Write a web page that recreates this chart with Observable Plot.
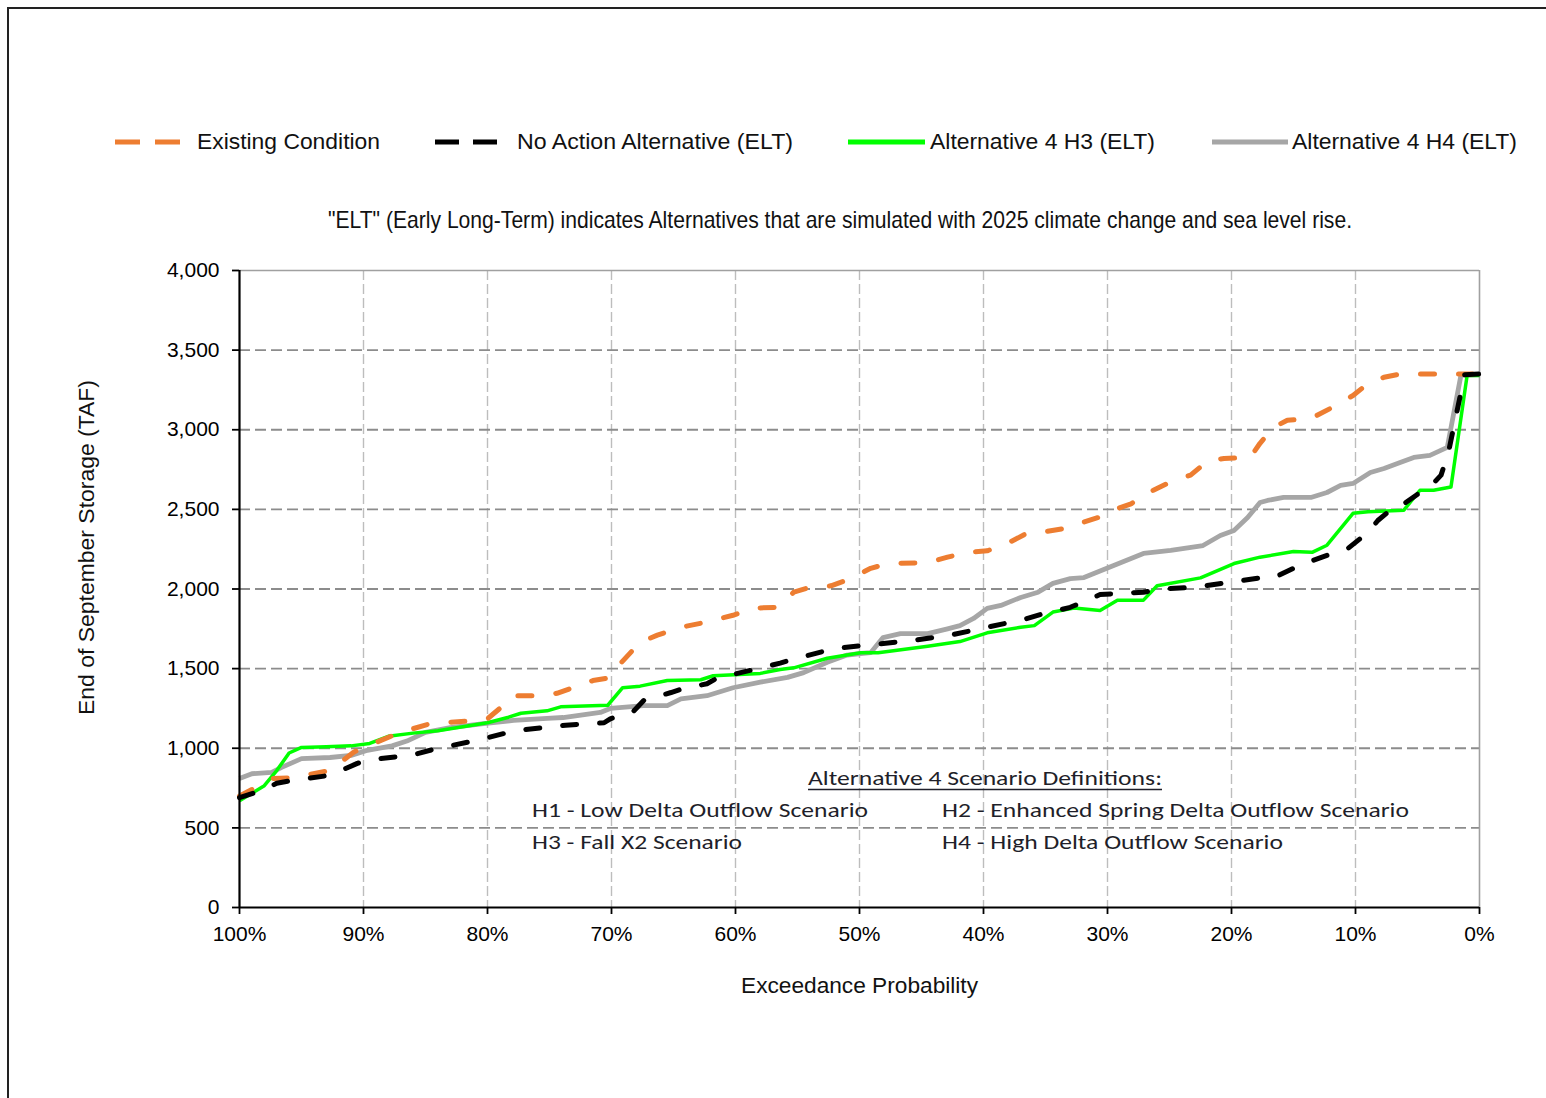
<!DOCTYPE html>
<html>
<head>
<meta charset="utf-8">
<script src="https://cdn.jsdelivr.net/npm/d3@7"></script>
<script src="https://cdn.jsdelivr.net/npm/@observablehq/plot@0.6"></script>
<style>
  html, body { margin: 0; padding: 0; background: #fff; width: 1546px; height: 1098px; overflow: hidden; }
  #page { position: relative; width: 1546px; height: 1098px; }
  #frame { position: absolute; left: 7px; top: 7px; width: 1600px; height: 1200px; border: 2px solid #222; box-sizing: border-box; }
  #chart { position: absolute; left: 0; top: 240px; }
  #overlay { position: absolute; left: 0; top: 0; pointer-events: none; }
</style>
</head>
<body>
<div id="page">
  <div id="frame"></div>
  <div id="chart"></div>
  <svg id="overlay" width="1546" height="1098"></svg>
</div>
<script>
// End-of-September storage exceedance curves (TAF) by exceedance probability (%)
const existingP   = [100, 97.3, 95.8, 92.7, 90.8, 90, 87, 84.6, 80.8, 80, 78.7, 77.9, 75.7, 74.4, 71.5, 70.3, 69.3, 67.7, 66.3, 64.4, 62.8, 60.2, 58.5, 56.6, 55.3, 54, 52.3, 50.7, 49.1, 47.7, 44.5, 42.9, 41.3, 39.7, 38.1, 36.5, 35.4, 33.5, 31.9, 30.3, 29.2, 28.1, 26.3, 24.7, 23.3, 21.9, 20.6, 18.5, 17.7, 16.6, 15.5, 13.6, 12.0, 10.2, 9.4, 7.7, 6.4, 3.1, 0];
const existingTAF = [700, 810, 815, 860, 975, 1005, 1100, 1155, 1175, 1185, 1270, 1330, 1330, 1345, 1425, 1440, 1530, 1665, 1710, 1760, 1785, 1835, 1880, 1885, 1980, 2010, 2020, 2065, 2130, 2160, 2165, 2200, 2230, 2240, 2285, 2350, 2355, 2380, 2420, 2460, 2505, 2535, 2620, 2680, 2715, 2805, 2820, 2825, 2915, 3015, 3060, 3070, 3135, 3215, 3265, 3330, 3350, 3350, 3350];

const noActionP   = [100, 98, 97, 95.8, 92.7, 90.5, 89.4, 86.2, 84, 83, 80.3, 77.8, 73.7, 70.6, 70.1, 68.2, 67.4, 65.2, 64.2, 62.3, 61.5, 58.2, 56.4, 55.3, 52.1, 49.7, 45.9, 42.7, 39.7, 36.7, 35.4, 33, 30.6, 27.1, 25.7, 23.1, 20.3, 17.7, 16.6, 15, 13.6, 11.8, 10.6, 9.0, 8.2, 6.9, 6.1, 3.7, 3.1, 2.5, 1.2, 0];
const noActionTAF = [690, 740, 780, 797, 830, 905, 930, 955, 1000, 1015, 1060, 1110, 1145, 1160, 1185, 1235, 1300, 1350, 1375, 1405, 1440, 1500, 1535, 1560, 1625, 1645, 1675, 1710, 1760, 1810, 1840, 1885, 1965, 1980, 2000, 2010, 2040, 2070, 2070, 2130, 2175, 2225, 2255, 2355, 2430, 2515, 2535, 2665, 2715, 2860, 3345, 3350];

const alt4H3P   = [100, 98, 97, 96, 95, 93, 91, 89.5, 88, 86, 84, 82, 80, 78.3, 77.3, 75.2, 74.1, 70.3, 69.1, 67.7, 65.5, 62.8, 61.8, 58, 56.4, 55.3, 52.6, 49.9, 48.5, 44.5, 41.9, 39.7, 37, 35.9, 34.4, 32.7, 30.6, 29.2, 27.1, 26, 22.5, 19.8, 17.7, 15, 13.5, 12.3, 10.2, 9, 6.1, 4.8, 3.7, 2.3, 1.0, 0];
const alt4H3TAF = [670, 765, 860, 970, 1005, 1010, 1015, 1030, 1075, 1095, 1110, 1135, 1160, 1195, 1220, 1235, 1260, 1270, 1380, 1390, 1425, 1430, 1455, 1470, 1495, 1505, 1565, 1600, 1600, 1640, 1670, 1725, 1760, 1770, 1855, 1880, 1865, 1930, 1930, 2020, 2070, 2160, 2200, 2235, 2230, 2275, 2475, 2485, 2495, 2620, 2620, 2640, 3340, 3340];

const alt4H4P   = [100, 99, 97.4, 96.6, 95, 92.7, 91, 89.8, 87.7, 86.5, 85, 83, 80.3, 77.9, 75.2, 73.9, 70.9, 70.1, 67.4, 65.5, 64.4, 62.3, 60.2, 58, 55.8, 54.5, 52.6, 51, 49.9, 49.1, 48.1, 46.7, 44.5, 42.9, 41.9, 40.8, 39.7, 38.6, 37, 35.6, 34.4, 33, 31.9, 29.5, 27.1, 24.9, 22.3, 20.9, 19.8, 18.7, 17.7, 17.1, 15.8, 13.6, 12.3, 11.2, 10.2, 8.8, 7.7, 6.4, 5.3, 4.0, 2.6, 1.5, 0];
const alt4H4TAF = [810, 840, 848, 880, 935, 942, 955, 985, 1015, 1045, 1100, 1130, 1155, 1175, 1187, 1193, 1225, 1250, 1268, 1268, 1310, 1330, 1380, 1415, 1445, 1475, 1540, 1585, 1595, 1600, 1695, 1720, 1720, 1750, 1770, 1815, 1878, 1897, 1947, 1980, 2035, 2065, 2072, 2148, 2223, 2242, 2273, 2336, 2368, 2449, 2543, 2556, 2575, 2575, 2606, 2650, 2663, 2732, 2757, 2795, 2826, 2839, 2889, 3341, 3347];

const seriesNames = ["Existing Condition", "No Action Alternative (ELT)", "Alternative 4 H3 (ELT)", "Alternative 4 H4 (ELT)"];
const xTicks = [100, 90, 80, 70, 60, 50, 40, 30, 20, 10, 0];
const yTicks = [0, 500, 1000, 1500, 2000, 2500, 3000, 3500, 4000];

const subtitle = "\"ELT\" (Early Long-Term) indicates Alternatives that are simulated with 2025 climate change and sea level rise.";
const xTitle = "Exceedance Probability";
const yTitle = "End of September Storage (TAF)";
const noteTitle = "Alternative 4 Scenario Definitions:";
const noteLines = ["H1 - Low Delta Outflow Scenario", "H2 - Enhanced Spring Delta Outflow Scenario", "H3 - Fall X2 Scenario", "H4 - High Delta Outflow Scenario"];

// Line styling per series
const styles = {
  "Existing Condition":          {stroke: "#ED7D31", width: 5,   dash: "14,24"},
  "No Action Alternative (ELT)": {stroke: "#000000", width: 5,   dash: "14,23"},
  "Alternative 4 H3 (ELT)":      {stroke: "#00FF00", width: 3.5, dash: null},
  "Alternative 4 H4 (ELT)":      {stroke: "#A6A6A6", width: 4.8, dash: null}
};

const toRows = (name, ps, vs) => ps.map((p, i) => ({series: name, p, taf: vs[i]}));
const rows = {
  "Existing Condition": toRows(seriesNames[0], existingP, existingTAF),
  "No Action Alternative (ELT)": toRows(seriesNames[1], noActionP, noActionTAF),
  "Alternative 4 H3 (ELT)": toRows(seriesNames[2], alt4H3P, alt4H3TAF),
  "Alternative 4 H4 (ELT)": toRows(seriesNames[3], alt4H4P, alt4H4TAF)
};

const lineMark = (name) => {
  const s = styles[name];
  return Plot.line(rows[name], {
    x: "p", y: "taf", stroke: s.stroke, strokeWidth: s.width,
    strokeDasharray: s.dash, strokeLinecap: s.dash ? "round" : "butt", strokeLinejoin: "round"
  });
};

const chart = Plot.plot({
  width: 1546,
  height: 767,
  marginLeft: 239,
  marginRight: 67,
  marginTop: 30,
  marginBottom: 100,
  style: {fontFamily: "'Liberation Sans', Arial, sans-serif", fontSize: "21px", color: "#000", background: "transparent", overflow: "visible"},
  x: {domain: [100, 0], label: null},
  y: {domain: [0, 4000], label: null},
  marks: [
    Plot.gridX({ticks: xTicks.slice(1, -1), stroke: "#bdbdbd", strokeOpacity: 1, strokeWidth: 1.4, strokeDasharray: "10,4"}),
    Plot.gridY({ticks: yTicks.slice(1, -1), stroke: "#8c8c8c", strokeOpacity: 1, strokeWidth: 1.8, strokeDasharray: "11,5"}),
    Plot.ruleY([4000], {stroke: "#a0a0a0", strokeWidth: 1.6}),
    Plot.ruleX([0], {stroke: "#a0a0a0", strokeWidth: 1.6}),
    lineMark("Alternative 4 H4 (ELT)"),
    lineMark("Alternative 4 H3 (ELT)"),
    lineMark("Existing Condition"),
    lineMark("No Action Alternative (ELT)"),
    Plot.ruleX([100], {stroke: "#000", strokeWidth: 2.2}),
    Plot.ruleY([0], {stroke: "#000", strokeWidth: 2.2}),
    Plot.axisX({ticks: xTicks, tickFormat: d => d + "%", tickSize: 7, tickPadding: 12, stroke: "#000", strokeWidth: 1.8, label: null, fontSize: 21}),
    Plot.axisY({ticks: yTicks, tickFormat: d3.format(","), tickSize: 7, tickPadding: 13, stroke: "#000", strokeWidth: 1.8, label: null, fontSize: 21})
  ]
});
document.getElementById("chart").appendChild(chart);

// Header legend, subtitle, axis titles and scenario notes
const svg = d3.select("#overlay");
const sans = "'Liberation Sans', Arial, sans-serif";

const legendLayout = [
  {x0: 115, x1: 180, tx: 197, tl: 183, dash: "25,15"},
  {x0: 435, x1: 497, tx: 517, tl: 276, dash: "24,14"},
  {x0: 848, x1: 925, tx: 930, tl: 225, dash: null},
  {x0: 1212, x1: 1288, tx: 1292, tl: 225, dash: null}
];
seriesNames.forEach((name, i) => {
  const L = legendLayout[i], s = styles[name];
  svg.append("line")
    .attr("x1", L.x0).attr("x2", L.x1).attr("y1", 142).attr("y2", 142)
    .attr("stroke", s.stroke).attr("stroke-width", 5)
    .attr("stroke-dasharray", L.dash);
  svg.append("text")
    .attr("x", L.tx).attr("y", 149)
    .attr("font-family", sans).attr("font-size", 22).attr("fill", "#111")
    .attr("textLength", L.tl).attr("lengthAdjust", "spacingAndGlyphs")
    .text(name);
});

svg.append("text")
  .attr("x", 328).attr("y", 228)
  .attr("font-family", sans).attr("font-size", 24).attr("fill", "#111")
  .attr("textLength", 1024).attr("lengthAdjust", "spacingAndGlyphs")
  .text(subtitle);

svg.append("text")
  .attr("x", 741).attr("y", 993)
  .attr("font-family", sans).attr("font-size", 22).attr("fill", "#111")
  .attr("textLength", 237).attr("lengthAdjust", "spacingAndGlyphs")
  .text(xTitle);

svg.append("text")
  .attr("transform", "translate(94,715) rotate(-90)")
  .attr("font-family", sans).attr("font-size", 22).attr("fill", "#111")
  .attr("textLength", 335).attr("lengthAdjust", "spacingAndGlyphs")
  .text(yTitle);

const calibri = "Carlito, Lato, 'Open Sans', sans-serif";
svg.append("text")
  .attr("x", 808).attr("y", 785)
  .attr("font-family", calibri).attr("font-size", 21).attr("fill", "#1f1f2a")
  .attr("textLength", 354).attr("lengthAdjust", "spacingAndGlyphs")
  .text(noteTitle);
svg.append("line")
  .attr("x1", 808).attr("x2", 1162).attr("y1", 789.5).attr("y2", 789.5)
  .attr("stroke", "#1f1f2a").attr("stroke-width", 1.4);

const noteLayout = [
  {x: 532, y: 817, tl: 336},
  {x: 942, y: 817, tl: 467},
  {x: 532, y: 849, tl: 210},
  {x: 942, y: 849, tl: 341}
];
noteLines.forEach((t, i) => {
  const N = noteLayout[i];
  svg.append("text")
    .attr("x", N.x).attr("y", N.y)
    .attr("font-family", calibri).attr("font-size", 21).attr("fill", "#1f1f2a")
    .attr("textLength", N.tl).attr("lengthAdjust", "spacingAndGlyphs")
    .text(t);
});
</script>
</body>
</html>
